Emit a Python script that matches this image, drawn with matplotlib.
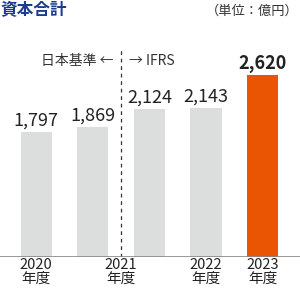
import numpy as np
import matplotlib.pyplot as plt

plt.rcParams['font.family'] = ['Noto Sans CJK JP', 'DejaVu Sans']

years = ['2020', '2021', '2022', '2023']
values = [1797, 1869, 2124, 2143, 2620]
labels = ['1,797', '1,869', '2,124', '2,143', '2,620']
tick_pos = [0, 1.5, 3, 4]   # 2021 sits on the JGAAP / IFRS border
colors = ['#dcdddd'] * 4 + ['#ea5504']

fig = plt.figure(figsize=(3.0, 2.91), dpi=100)
ax = fig.add_axes([0, 34 / 291, 1, 257 / 291])

ind = np.arange(len(values))
ax.bar(ind, values, 0.55, color=colors, zorder=2)

for i, (v, s) in enumerate(zip(values, labels)):
    ax.annotate(s, (i, v), xytext=(0, 1.5), textcoords='offset points',
                ha='center', va='bottom', fontsize=13, color='#222222',
                fontweight='bold' if i == len(values) - 1 else 'normal')

# border between 日本基準 and IFRS
ax.vlines(1.5, 0, 2975, colors='#333333', linestyles=(0, (3, 3)), linewidth=0.9)
ax.text(1.36, 2815, '日本基準 ←', ha='right', va='center', fontsize=10, color='#333333')
ax.text(1.64, 2815, '→ IFRS', ha='left', va='center', fontsize=10, color='#333333')

ax.set_xlim(-0.637, 4.66)
ax.set_ylim(0, 3692)
ax.axhline(0, color='#888888', linewidth=1.2, zorder=3)

ax.set_xticks(tick_pos)
ax.set_xticklabels([y + '\n年度' for y in years], fontsize=10.5, linespacing=1.0,
                   color='#222222')
ax.tick_params(axis='x', length=0, pad=0.8)
ax.set_yticks([])
for sp in ax.spines.values():
    sp.set_visible(False)

fig.text(0.0, 1 - 10 / 291, '資本合計', ha='left', va='center', fontsize=12,
         fontweight='bold', color='#1b3c8c')
fig.text(0.995, 1 - 11 / 291, '（単位：億円）', ha='right', va='center', fontsize=9.5,
         color='#333333')

fig.savefig('out.png', dpi=100)
